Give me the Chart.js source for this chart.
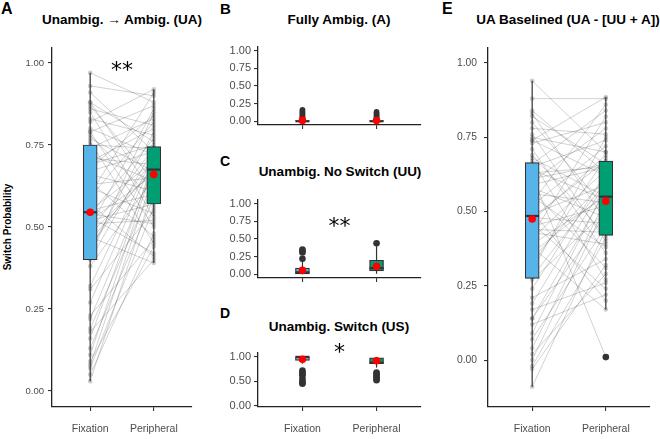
<!DOCTYPE html>
<html>
<head>
<meta charset="utf-8">
<script src="https://cdn.jsdelivr.net/npm/chart.js@4.4.0/dist/chart.umd.min.js"></script>
<style>
  body { margin: 0; background: #fff; width: 660px; height: 439px; overflow: hidden; position: relative;
         font-family: "Liberation Sans", Arial, sans-serif; }
  canvas { position: absolute; left: 0; top: 0; }
  .lbl { position: absolute; font-weight: bold; color: #000; white-space: nowrap; line-height: 1; }
  .ttl { font-size: 13.5px; transform: translateX(-50%); }
  .ytitle { font-size: 10px; width: 140px; text-align: center; transform: rotate(-90deg); }
</style>
</head>
<body>
<div class="lbl" style="left:1px;top:1px;font-size:16px">A</div>
<div class="lbl" style="left:220px;top:1px;font-size:15px">B</div>
<div class="lbl" style="left:220px;top:154px;font-size:14px">C</div>
<div class="lbl" style="left:220px;top:306px;font-size:14px">D</div>
<div class="lbl" style="left:442px;top:1px;font-size:16px">E</div>

<div class="lbl ttl" style="left:122px;top:13px">Unambig. → Ambig. (UA)</div>
<div class="lbl ttl" style="left:339px;top:13px">Fully Ambig. (A)</div>
<div class="lbl ttl" style="left:340px;top:165px">Unambig. No Switch (UU)</div>
<div class="lbl ttl" style="left:339px;top:320px">Unambig. Switch (US)</div>
<div class="lbl ttl" style="left:568px;top:13px">UA Baselined (UA - [UU + A])</div>
<div class="lbl ytitle" style="left:-62px;top:222px">Switch Probability</div>

<canvas id="chartA" width="660" height="439"></canvas>
<canvas id="chartB" width="660" height="439"></canvas>
<canvas id="chartC" width="660" height="439"></canvas>
<canvas id="chartD" width="660" height="439"></canvas>
<canvas id="chartE" width="660" height="439"></canvas>

<script>
// categories and colours
const groups = ['Fixation', 'Peripheral'];
const groupColors = ['#56B4E9', '#009E73'];
const yTicks = [0, 0.25, 0.5, 0.75, 1];

// A: Unambig -> Ambig (UA), one value per participant
const uaFix = [0.03, 0.97, 0.40, 0.76, 0.55, 0.05, 0.93, 0.41, 0.77, 0.57, 0.07, 0.91, 0.43, 0.78, 0.59, 0.08,
               0.88, 0.44, 0.79, 0.60, 0.09, 0.88, 0.46, 0.79, 0.62, 0.11, 0.87, 0.47, 0.80, 0.63, 0.13, 0.86,
               0.48, 0.82, 0.64, 0.16, 0.85, 0.49, 0.83, 0.66, 0.18, 0.50, 0.67, 0.19, 0.51, 0.68, 0.22, 0.52,
               0.69, 0.23, 0.52, 0.70, 0.27, 0.53, 0.71, 0.31, 0.54, 0.72, 0.32, 0.54, 0.74, 0.38, 0.55, 0.75];
const uaPer = [0.62, 0.88, 0.74, 0.45, 0.70, 0.48, 0.90, 0.85, 0.67, 0.41, 0.56, 0.73, 0.79, 0.58, 0.82, 0.66,
               0.60, 0.71, 0.50, 0.91, 0.44, 0.76, 0.68, 0.87, 0.54, 0.69, 0.64, 0.39, 0.72, 0.65, 0.59, 0.81,
               0.67, 0.92, 0.47, 0.70, 0.53, 0.74, 0.78, 0.61, 0.40, 0.86, 0.73, 0.63, 0.52, 0.84, 0.68, 0.57,
               0.75, 0.46, 0.66, 0.80, 0.71, 0.42, 0.69, 0.55, 0.77, 0.64, 0.72, 0.51, 0.83, 0.65, 0.60, 0.74];
// box stats: [whisker low, q1, median, q3, whisker high]
const uaBoxes = [[0.03, 0.40, 0.545, 0.75, 0.97], [0.39, 0.57, 0.675, 0.745, 0.92]];
const uaMeans = [0.545, 0.66];

// B: Fully ambiguous (A)
const aBoxes = [[0, 0, 0.003, 0.012, 0.025], [0, 0, 0.003, 0.012, 0.025]];
const aOutFix = [0.03, 0.045, 0.06, 0.075, 0.09, 0.105, 0.12, 0.135, 0.15, 0.165];
const aOutPer = [0.03, 0.045, 0.06, 0.075, 0.09, 0.105, 0.12, 0.135];
const aMeans = [0.015, 0.012];

// C: Unambig no switch (UU)
const uuBoxes = [[0, 0, 0.03, 0.09, 0.2], [0.01, 0.05, 0.09, 0.2, 0.4]];
const uuOutFix = [0.22, 0.31, 0.33, 0.35];
const uuOutPer = [0.44];
const uuMeans = [0.06, 0.115];

// D: Unambig switch (US)
const usBoxes = [[0.86, 0.93, 1.0, 1.0, 1.0], [0.78, 0.86, 0.88, 0.98, 1.0]];
const usOutFix = [0.72, 0.68, 0.65, 0.62, 0.55, 0.5, 0.47, 0.45];
const usOutPer = [0.68, 0.65, 0.62, 0.58, 0.55, 0.52];
const usMeans = [0.95, 0.92];

// E: UA baselined
const eFix = [-0.09, 0.94, 0.28, 0.67, 0.49, -0.03, 0.88, 0.30, 0.68, 0.50, -0.02, 0.84, 0.32, 0.69, 0.52, 0.00,
              0.83, 0.34, 0.71, 0.53, 0.02, 0.82, 0.36, 0.73, 0.55, 0.04, 0.80, 0.38, 0.74, 0.56, 0.07, 0.78,
              0.39, 0.74, 0.57, 0.09, 0.76, 0.41, 0.75, 0.58, 0.12, 0.42, 0.59, 0.14, 0.43, 0.60, 0.14, 0.44,
              0.61, 0.17, 0.45, 0.62, 0.19, 0.46, 0.63, 0.21, 0.47, 0.64, 0.24, 0.48, 0.65, 0.27, 0.48, 0.66];
const ePer = [0.44, 0.70, 0.60, 0.27, 0.59, 0.32, 0.88, 0.75, 0.55, 0.20, 0.41, 0.63, 0.68, 0.42, 0.72, 0.52,
              0.47, 0.61, 0.36, 0.86, 0.29, 0.66, 0.56, 0.80, 0.38, 0.54, 0.51, 0.17, 0.62, 0.53, 0.45, 0.76,
              0.55, 0.885, 0.31, 0.58, 0.40, 0.64, 0.70, 0.48, 0.22, 0.82, 0.65, 0.49, 0.39, 0.78, 0.57, 0.43,
              0.66, 0.26, 0.52, 0.01, 0.60, 0.24, 0.65, 0.34, 0.69, 0.54, 0.63, 0.46, 0.74, 0.50, 0.67, 0.84];
const eBoxes = [[-0.09, 0.275, 0.485, 0.665, 0.94], [0.17, 0.42, 0.55, 0.67, 0.885]];
const eOutPer = [0.01];
const eMeans = [0.475, 0.535];

// significance labels [text, x, y]
const sigA = ['**', 1.5, 0.975];
const sigC = ['**', 1.5, 0.66];
const sigD = ['*', 1.5, 1.07];

const sigPlugin = {
  id: 'sig',
  afterDraw(chart, args, opts) {
    if (!opts.label) return;
    const ctx = chart.ctx;
    ctx.save();
    ctx.font = '22px "DejaVu Sans"';
    ctx.fillStyle = '#000';
    ctx.textAlign = 'center';
    ctx.textBaseline = 'middle';
    ctx.fillText(opts.label[0], chart.scales.x.getPixelForValue(opts.label[1]), chart.scales.y.getPixelForValue(opts.label[2]));
    ctx.restore();
  }
};

function subjectLines(fix, per) {
  return fix.map((v, i) => ({
    type: 'line',
    data: [{x: 1, y: v}, {x: 2, y: per[i]}],
    borderColor: 'rgba(0,0,0,0.18)',
    borderWidth: 1,
    pointRadius: 2.3,
    pointBackgroundColor: 'rgba(60,60,60,0.25)',
    pointBorderWidth: 0,
    order: 10
  }));
}

function boxSets(boxes, means, outFix, outPer, outR) {
  const ds = [];
  boxes.forEach((b, i) => {
    ds.push({type: 'line', data: [{x: i + 1, y: b[0]}, {x: i + 1, y: b[4]}],
             borderColor: '#333', borderWidth: 1.2, pointRadius: 0, order: 5});
  });
  ds.push({type: 'bar', data: boxes.map((b, i) => ({x: i + 1, y: [b[1], b[3]]})),
           backgroundColor: groupColors, borderColor: '#333', borderWidth: 1.2,
           borderSkipped: false, barThickness: 14, order: 3});
  ds.push({type: 'scatter', data: boxes.map((b, i) => ({x: i + 1, y: b[2]})),
           pointStyle: 'line', pointRadius: 7, pointBorderColor: '#333', pointBorderWidth: 2.2, order: 2});
  const outs = [];
  (outFix || []).forEach(v => outs.push({x: 1, y: v}));
  (outPer || []).forEach(v => outs.push({x: 2, y: v}));
  if (outs.length) {
    ds.push({type: 'scatter', data: outs, pointRadius: outR, pointBackgroundColor: '#333',
             pointBorderWidth: 0, order: 1});
  }
  ds.push({type: 'scatter', data: means.map((m, i) => ({x: i + 1, y: m})), pointRadius: 3.8,
           pointBackgroundColor: '#ff0000', pointBorderWidth: 0, order: 0});
  return ds;
}

function makeChart(id, datasets, p) {
  const yw = 40, xh = 30;
  return new Chart(document.getElementById(id), {
    type: 'bar',
    data: {datasets: datasets},
    plugins: [sigPlugin],
    options: {
      responsive: false,
      animation: false,
      devicePixelRatio: 1,
      layout: {padding: {left: p.left - yw, top: p.top, right: 660 - p.right, bottom: 439 - p.bottom - xh}},
      plugins: {legend: {display: false}, tooltip: {enabled: false}, sig: {label: p.sig}},
      scales: {
        x: {
          type: 'linear', min: 0.4, max: 2.6, offset: false,
          afterBuildTicks: s => { s.ticks = [{value: 1}, {value: 2}]; },
          afterFit: s => { s.height = xh; },
          grid: {offset: false, drawOnChartArea: false, drawTicks: true, tickLength: 4, color: '#333', lineWidth: 1.1},
          border: {display: true, color: '#222', width: 1.3},
          ticks: {display: p.xLabels, padding: 12, color: '#4d4d4d', maxRotation: 0,
                  font: {family: '"Liberation Sans", Arial', size: 10.5},
                  callback: v => groups[v - 1]}
        },
        y: {
          type: 'linear', min: p.ymin, max: p.ymax,
          afterBuildTicks: s => { s.ticks = yTicks.map(v => ({value: v})); },
          afterFit: s => { s.width = yw; },
          grid: {drawOnChartArea: false, drawTicks: true, tickLength: 4, color: '#333', lineWidth: 1.1},
          border: {display: true, color: '#222', width: 1.3},
          ticks: {padding: p.tpad, color: '#4d4d4d',
                  font: {family: '"Liberation Sans", Arial', size: p.fs},
                  callback: v => v.toFixed(2)}
        }
      }
    }
  });
}

makeChart('chartA', subjectLines(uaFix, uaPer).concat(boxSets(uaBoxes, uaMeans, [], [], 3)),
  {left: 52, right: 192, top: 48, bottom: 407, ymin: -0.0488, ymax: 1.0457, fs: 9.5, tpad: 4, xLabels: true, sig: sigA});
makeChart('chartB', boxSets(aBoxes, aMeans, aOutFix, aOutPer, 2.8),
  {left: 258, right: 421, top: 47, bottom: 125, ymin: -0.05, ymax: 1.05, fs: 11, tpad: 3, xLabels: false, sig: null});
makeChart('chartC', boxSets(uuBoxes, uuMeans, uuOutFix, uuOutPer, 3.3),
  {left: 258, right: 421, top: 200, bottom: 278, ymin: -0.05, ymax: 1.05, fs: 11, tpad: 3, xLabels: false, sig: sigC});
makeChart('chartD', boxSets(usBoxes, usMeans, usOutFix, usOutPer, 3.3),
  {left: 258, right: 421, top: 353, bottom: 407, ymin: -0.03, ymax: 1.08, fs: 11, tpad: 3, xLabels: true, sig: sigD});
makeChart('chartE', subjectLines(eFix, ePer).concat(boxSets(eBoxes, eMeans, [], eOutPer, 3.3)),
  {left: 488, right: 650, top: 48, bottom: 407, ymin: -0.158, ymax: 1.0505, fs: 10.3, tpad: 7, xLabels: true, sig: null});
</script>
</body>
</html>
